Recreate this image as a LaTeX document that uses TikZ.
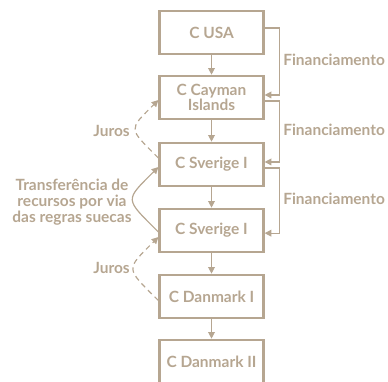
\documentclass[tikz,border=0pt]{standalone}
\usepackage{fontspec}
\setmainfont{Lato}
\usepackage{xcolor}
\usetikzlibrary{arrows.meta,positioning,calc}

\definecolor{tan}{RGB}{182,166,145}

\begin{document}
\begin{tikzpicture}[x=0.75pt, y=0.75pt,
    box/.style={rectangle, draw=tan, line width=1.7pt, minimum width=78pt, minimum height=32.5pt, align=center, text=tan, font=\fontsize{11.6}{11.5}\selectfont\bfseries},
    arrow/.style={-{Triangle[length=5pt, width=5pt]}, draw=tan, line width=0.9pt},
    lbl/.style={text=tan, align=center, inner sep=0pt, font=\fontsize{11.6}{12}\selectfont\bfseries},
]
\useasboundingbox (0,0) rectangle (388,-381);

% Entities
\node[box] (usa) at (211.5,-32.5) {C USA};
\node[box] (cayman) at (211.5,-97.5) {C Cayman\\Islands};
\node[box] (sverigeA) at (211.5,-164.5) {C Sverige I};
\node[box] (sverigeB) at (211.5,-230.5) {C Sverige I};
\node[box] (danmarkA) at (211.5,-296.5) {C Danmark I};
\node[box] (danmarkB) at (211.5,-361.5) {C Danmark II};

% Chain
\draw[arrow] (usa) -- (cayman);
\draw[arrow] (cayman) -- (sverigeA);
\draw[arrow] (sverigeA) -- (sverigeB);
\draw[arrow] (sverigeB) -- (danmarkA);
\draw[arrow] (danmarkA) -- (danmarkB);

% Financing (right)
\draw[arrow] ([yshift=3.4pt]usa.east) -- ++(15,0) |- ([yshift=1.9pt]cayman.east);
\draw[arrow] ([yshift=-2.6pt]cayman.east) -- ++(15,0) |- ([yshift=1.9pt]sverigeA.east);
\draw[arrow] ([yshift=-2.6pt]sverigeA.east) -- ++(15,0) |- ([yshift=-2pt]sverigeB.east);

\node[lbl, anchor=west] (fin1) at (283,-60) {Financiamento};
\node[lbl, anchor=west] (fin2) at (283,-130) {Financiamento};
\node[lbl, anchor=west] (fin3) at (283,-199) {Financiamento};

% Interest and transfer (left)
\draw[arrow, dash pattern=on 4pt off 3pt] ([yshift=4.9pt]sverigeA.west) to[out=135, in=225, looseness=1.9] ([yshift=-1.9pt]cayman.west);
\draw[arrow] ([yshift=-1.1pt]sverigeB.west) to[out=135, in=225, looseness=1.9] ([yshift=-1.9pt]sverigeA.west);
\draw[arrow, dash pattern=on 4pt off 3pt] ([yshift=-3pt]danmarkA.west) to[out=135, in=225, looseness=1.9] ([yshift=-4.9pt]sverigeB.west);

\node[lbl, anchor=east] (juros1) at (130,-131) {Juros};
\node[lbl] (transf) at (72,-202) {Transferência de\\recursos por via\\das regras suecas};
\node[lbl, anchor=east] (juros2) at (130,-268) {Juros};

\end{tikzpicture}
\end{document}
